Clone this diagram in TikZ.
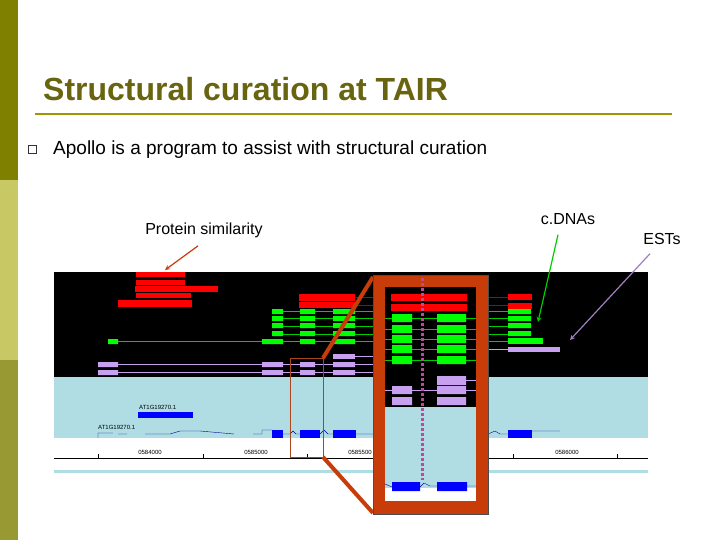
\documentclass[tikz,border=0pt]{standalone}
\usepackage{fontspec}
\setmainfont{Liberation Sans}
\begin{document}
\begin{tikzpicture}[x=1pt,y=-1pt,
  lbl/.style={font=\fontsize{16}{18}\selectfont,anchor=base},
  tick/.style={font=\fontsize{6}{7}\selectfont,anchor=base}]
\definecolor{oliveA}{RGB}{128,128,0}
\definecolor{oliveB}{RGB}{200,200,100}
\definecolor{oliveC}{RGB}{153,153,51}
\definecolor{titlec}{RGB}{105,100,15}
\definecolor{rule}{RGB}{160,150,0}
\definecolor{lb}{RGB}{176,221,228}
\definecolor{callout}{RGB}{200,60,10}
\definecolor{smallr}{RGB}{170,70,30}
\definecolor{purc}{RGB}{200,160,240}
\definecolor{magd}{RGB}{184,76,156}
\useasboundingbox (0,0) rectangle (720,540);
\fill[white] (0,0) rectangle (720,540);
\fill[oliveA] (0,0) rectangle (18,180);
\fill[oliveB] (0,180) rectangle (18,360);
\fill[oliveC] (0,360) rectangle (18,540);
\node[anchor=base west,inner sep=0pt,text=titlec,font=\bfseries\fontsize{32}{34}\selectfont] (title) at (43,101) {Structural curation at TAIR};
\draw[rule,line width=2.5pt] (35,114) -- (672,114);
\node[draw=black!80,line width=0.9pt,minimum size=8pt,inner sep=0pt] (bul) at (32,149) {};
\node[anchor=base west,inner sep=0pt,font=\fontsize{19}{22}\selectfont] (apollo) at (53,155) {Apollo is a program to assist with structural curation};
% screenshot
\fill[black] (54,272) rectangle (648,377);
\fill[lb] (54,377) rectangle (648,438);
\fill[lb] (54,470) rectangle (648,473);
% red
\foreach \a/\b/\c/\d in {136/272/185/277,136/280/185/285,135/286/218/292,136/293/191/298,118/300/192/307,299/294/355/301,299/302/355/308,508/294/532/300,508/303/532/309}
  \fill[red] (\a,\b) rectangle (\c,\d);
\draw[red!70!black] (355,297) -- (508,297) (355,305) -- (508,305);
% green lines
\foreach \y in {311,318,326,334,341} \draw[green!80!black,line width=0.5pt] (283,\y) -- (508,\y);
\draw[green!80!black] (118,341) -- (262,341);
\fill[green] (108,339) rectangle (118,344) (262,339) rectangle (283,344);
\foreach \y in {309,316,323,331} {\fill[green] (272,\y) rectangle (283,\y+5) (508,\y) rectangle (531,\y+5);}
\fill[green] (508,338) rectangle (543,344);
\foreach \y in {309,316,323,331,339} {\fill[green] (300,\y) rectangle (315,\y+5) (333,\y) rectangle (355,\y+5);}
% purple
\draw[purc] (98,364) -- (373,364) (98,372) -- (373,372) (355,356) -- (373,356) (488,349) -- (508,349);
\foreach \x/\xx in {98/118,262/283,300/315,333/355} {\fill[purc] (\x,362) rectangle (\xx,367) (\x,370) rectangle (\xx,375);}
\fill[purc] (333,354) rectangle (355,359);
\fill[purc] (508,347) rectangle (560,352);
% annotations
\node[anchor=base west,font=\fontsize{6}{7}\selectfont,inner sep=0pt] (g1) at (139,409) {AT1G19270.1};
\fill[blue] (138,412) rectangle (193,418);
\node[anchor=base west,font=\fontsize{6}{7}\selectfont,inner sep=0pt] (g2) at (98,429) {AT1G19270.1};
\draw[blue!60!black] (98,438) -- (98,433) -- (113,433) (118,434) -- (127,434) (145,434) -- (170,434) -- (180,431) -- (200,431) -- (234,434) (253,434) -- (262,434) -- (262,430) -- (272,430)
  (283,434) -- (290,434) -- (293,431) -- (296,434) -- (300,434) (320,434) -- (324,430) -- (328,434) -- (333,434) (356,434) -- (373,434) (488,434) -- (495,431) -- (500,434) -- (508,434) (532,431) -- (560,431);
\foreach \a/\c in {272/283,300/320,333/356,508/532} \fill[blue] (\a,430) rectangle (\c,438);
\draw[black] (54,458) -- (648,458);
\foreach \x in {98,203,307,410,513,617} \draw (\x,454) -- (\x,458);
\node[tick] (t1) at (150,454) {0584000};
\node[tick] (t2) at (256,454) {0585000};
\node[tick] (t3) at (360,454) {0585500};
\node[tick] (t4) at (567,454) {0586000};
% small rectangle and callout
\draw[smallr,line width=1pt] (290,358) rectangle (323,457);
\draw[callout,line width=4pt] (323,358) -- (373,277) (323,457) -- (373,513);
\fill[callout] (373,275) rectangle (488,514);
\draw[black!70,line width=0.6pt] (373,275) rectangle (488,514);
\fill[black] (385,287) rectangle (476,407);
\fill[lb] (385,407) rectangle (476,488);
\fill[white] (385,488) rectangle (476,501);
\fill[red] (391,294) rectangle (467,301) (391,304) rectangle (467,311);
\foreach \y in {314,325,335,345,356} {
  \draw[green!80!black] (385,\y+4) -- (476,\y+4);
  \fill[green] (392,\y) rectangle (412,\y+8) (437,\y) rectangle (466,\y+8);}
\draw[purc] (385,390) -- (476,390) (466,380) -- (476,380);
\fill[purc] (392,386) rectangle (412,394) (392,397) rectangle (412,405) (437,376) rectangle (466,385) (437,386) rectangle (466,394) (437,397) rectangle (466,405);
\draw[blue!60!black] (385,484) -- (392,487) (420,487) -- (424,483) -- (430,486) -- (437,486) (467,486) -- (476,486);
\fill[blue] (392,482) rectangle (420,491) (437,482) rectangle (467,491);
\draw[magd,line width=3pt,dash pattern=on 3pt off 2pt] (422,278) -- (422,480);
% labels
\node[lbl] (ps) at (204,235) {Protein similarity};
\node[lbl] (cd) at (568,225) {c.DNAs};
\node[lbl] (es) at (662,244) {ESTs};
\coordinate (pe) at (165,270);
\coordinate (ce) at (538,322);
\coordinate (ee) at (570,340);
\draw[callout,line width=1.2pt,-stealth] (ps.south) ++(-6,4) -- (pe);
\draw[green!80!black,line width=1.2pt,-stealth] (cd.south) ++(-10,6) -- (ce);
\draw[purc!80!black,line width=1.2pt,-stealth] (es.south) ++(-12,6) -- (ee);
\end{tikzpicture}
\end{document}
